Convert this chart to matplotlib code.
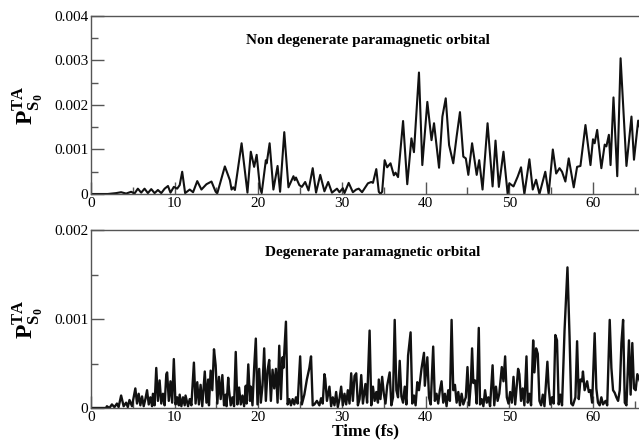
import numpy as np
import matplotlib
matplotlib.use("Agg")
import matplotlib.pyplot as plt
from matplotlib.ticker import MultipleLocator

plt.rcParams['font.family'] = ['Liberation Serif', 'DejaVu Serif']
plt.rcParams['mathtext.fontset'] = 'custom'
plt.rcParams['mathtext.rm'] = 'Liberation Serif'
plt.rcParams['mathtext.bf'] = 'Liberation Serif:bold'

# top panel: non degenerate paramagnetic orbital (time in fs, probability)
top_t = [0, 2.0, 3.0, 3.6, 4.2, 4.8, 5.2, 5.6, 6.0, 6.4, 6.8, 7.2, 7.6, 8.0, 8.4, 8.8,
         9.2, 9.5, 9.9, 10.3, 10.6, 10.9, 11.25, 11.8, 12.2, 12.7, 13.2, 13.8, 14.4, 14.9,
         15.1, 16.0, 16.6, 16.8, 17.0, 17.2, 18.0, 18.7, 19.1, 19.5, 19.8, 20.2, 20.4, 20.9,
         21.0, 21.35, 21.8, 22.3, 22.6, 23.1, 23.6, 24.2, 24.35, 24.5, 24.9, 25.2, 25.6, 26.0,
         26.5, 26.9, 27.4, 27.9, 28.35, 28.8, 29.4, 29.7, 30.1, 30.3, 30.8, 31.3, 31.7, 32.0,
         32.4, 33.1, 33.5, 33.7, 34.1, 34.4, 34.6, 34.8, 35.1, 35.4, 35.8, 36.2, 36.4, 36.7,
         37.3, 37.8, 38.3, 38.6, 39.2, 39.6, 40.2, 40.7, 41.0, 41.6, 42.0, 42.4, 42.8, 43.3,
         43.7, 44.1, 44.5, 44.8, 45.1, 45.55, 46.1, 46.4, 46.8, 47.4, 48.0, 48.35, 48.75, 49.3,
         49.8, 50.0, 50.5, 51.0, 51.4, 51.8, 52.4, 52.8, 53.2, 53.6, 54.3, 54.7, 55.2, 55.6,
         56.0, 56.3, 56.7, 57.1, 57.7, 58.1, 58.5, 59.1, 59.7, 60.0, 60.2, 60.5, 61.0, 61.4,
         61.6, 61.9, 62.1, 62.45, 62.9, 63.3, 64.0, 64.6, 64.9, 65.4, 65.6]
top_p = [0, 0, 0.00002, 0.00004, 0.00001, 0.00005, 0.00001, 0.00012, 0.00003, 0.00012,
         0.00002, 0.00011, 0.00002, 0.00009, 0.00002, 0.00012, 0.00018, 0.00003, 0.00016,
         0.00012, 0.0002, 0.0005, 0.00002, 0.0001, 0.00004, 0.00029, 0.0001, 0.00022, 0.00028,
         0.00005, 0.00002, 0.00062, 0.00031, 0.0001, 0.00015, 0.00009, 0.00114, 0.00003,
         0.00095, 0.00061, 0.00088, 0.00014, 0.00002, 0.00076, 0.00069, 0.00114, 0.0001,
         0.00063, 0.00005, 0.00139, 0.00015, 0.0004, 0.00031, 0.00037, 0.0002, 0.00016,
         0.00027, 0.00008, 0.00058, 0.00003, 0.00043, 0.00006, 0.00027, 0.00003, 0.00012,
         0.00004, 0.00013, 0.00002, 0.00025, 0.00004, 0.0001, 0.00012, 0.00004, 0.00024,
         0.00027, 0.00025, 0.00056, 0.00005, 0.0, 0.00005, 0.00076, 0.0006, 0.00069, 0.00042,
         0.00048, 0.00038, 0.00164, 0.00022, 0.00125, 0.00094, 0.00273, 0.00065, 0.00207,
         0.00121, 0.00159, 0.00059, 0.00174, 0.00215, 0.0011, 0.00069, 0.00129, 0.00184,
         0.00084, 0.0008, 0.00043, 0.00114, 0.00043, 0.00076, 0.0001, 0.00159, 0.00017,
         0.0012, 0.00016, 0.00095, 0.0, 0.00024, 0.00017, 0.00039, 0.0006, 0.0, 0.00078,
         0.0001, 0.00032, 0.0, 0.0005, 0.0, 0.001, 0.00046, 0.00058, 0.0005, 0.00028, 0.0008,
         0.00015, 0.00061, 0.00063, 0.00155, 0.00065, 0.00123, 0.00114, 0.00144, 0.00058,
         0.00111, 0.00107, 0.00133, 0.00065, 0.00217, 0.0004, 0.00305, 0.00063, 0.00174,
         0.00077, 0.00165, 0.0015]

# bottom panel: degenerate paramagnetic orbital
bot_t = [0, 1.8, 1.9, 2.2, 2.5, 2.8, 3.1, 3.3, 3.6, 3.9, 4.2, 4.4, 4.6, 4.9, 5.3, 5.5,
         5.7, 5.9, 6.1, 6.3, 6.5, 6.7, 6.9, 7.1, 7.3, 7.4, 7.6, 7.8, 8.0, 8.2, 8.4, 8.6,
         8.8, 9.0, 9.1, 9.3, 9.5, 9.7, 9.9, 10.1, 10.3, 10.5, 10.6, 10.8, 11.0, 11.2, 11.3,
         11.6, 11.8, 12.0, 12.3, 12.5, 12.7, 12.9, 13.1, 13.3, 13.6, 13.8, 14.0, 14.1, 14.3,
         14.5, 14.7, 14.9, 15.1, 15.3, 15.5, 15.7, 15.9, 16.1, 16.2, 16.4, 16.5, 16.7, 16.9,
         17.1, 17.3, 17.5, 17.7, 17.9, 18.1, 18.3, 18.5, 18.6, 18.8, 19.0, 19.1, 19.3, 19.5,
         19.7, 19.9, 20.1, 20.3, 20.5, 20.7, 20.9, 21.1, 21.3, 21.5, 21.7, 21.9, 22.1, 22.3,
         22.5, 22.7, 22.9, 23.0, 23.3, 23.5, 23.7, 23.9, 24.1, 24.3, 24.5, 24.7, 25.0, 25.2,
         25.5, 25.8, 26.1, 26.3, 26.5, 26.7, 27.0, 27.3, 27.5, 27.7, 27.9, 28.0, 28.2, 28.5,
         28.7, 28.9, 29.1, 29.3, 29.5, 29.7, 29.9, 30.1, 30.3, 30.5, 30.7, 30.9, 31.1, 31.3,
         31.5, 31.7, 31.9, 32.1, 32.3, 32.5, 32.8, 33.0, 33.3, 33.5, 33.7, 33.9, 34.1, 34.3,
         34.4, 34.6, 34.8, 35.0, 35.2, 35.4, 35.7, 35.9, 36.1, 36.3, 36.5, 36.7, 36.9, 37.1,
         37.3, 37.5, 37.7, 37.9, 38.2, 38.4, 38.6, 38.8, 39.0, 39.2, 39.5, 39.8, 39.9, 40.2,
         40.4, 40.6, 40.9, 41.1, 41.3, 41.5, 41.7, 41.9, 42.1, 42.3, 42.5, 42.7, 42.9, 43.1,
         43.3, 43.5, 43.7, 43.9, 44.1, 44.3, 44.5, 44.8, 45.0, 45.2, 45.4, 45.55, 45.7, 45.9,
         46.1, 46.35, 46.5, 46.7, 46.9, 47.1, 47.3, 47.5, 47.7, 48.0, 48.2, 48.4, 48.6, 48.8,
         49.1, 49.3, 49.5, 49.7, 49.9, 50.1, 50.3, 50.5, 50.7, 50.9, 51.05, 51.2, 51.4, 51.6,
         51.8, 52.05, 52.2, 52.4, 52.6, 52.85, 53.0, 53.2, 53.4, 53.6, 53.8, 54.0, 54.2,
         54.55, 54.7, 54.9, 55.1, 55.3, 55.5, 55.7, 55.9, 56.1, 56.3, 56.6, 56.95, 57.2,
         57.4, 57.6, 57.9, 58.1, 58.3, 58.5, 58.7, 58.8, 59.0, 59.3, 59.5, 59.7, 59.9, 60.2,
         60.4, 60.6, 60.8, 61.0, 61.2, 61.5, 61.7, 62.0, 62.2, 62.4, 62.6, 62.8, 63.0, 63.2,
         63.4, 63.6, 63.8, 64.0, 64.3, 64.5, 64.7, 64.9, 65.1, 65.3, 65.6]
bot_p = [0, 0, 0.00002, 0, 0.00004, 0.00001, 0.00005, 0.00001, 0.00014, 0.00002, 0.00006,
         0.00001, 0.00009, 0.00002, 0.00022, 0.00005, 0.00016, 0.00003, 0.00013, 0.00002,
         0.0001, 0.0002, 0.00004, 0.00012, 0.00002, 0.00016, 0.00003, 0.00045, 0.00008,
         0.00031, 0.00005, 0.00016, 0.00003, 0.00038, 0.0004, 0.00008, 0.0003, 0.00006,
         0.00055, 0.00004, 0.00012, 0.00003, 0.00015, 0.00002, 0.00012, 0.00003, 0.00014,
         0.00002, 0.0001, 0.00003, 0.00051, 0.00005, 0.00029, 0.00004, 0.00026, 0.00002,
         0.00041, 0.00006, 0.00032, 0.00003, 0.00042, 0.0002, 0.00066, 0.00048, 0.00005,
         0.00035, 0.0001, 0.00037, 0.00003, 0.00015, 0.00002, 0.00034, 0.0002, 0.00003,
         0.00012, 0.00002, 0.00063, 0.00004, 0.00023, 0.00004, 0.00014, 0.00002, 0.00025,
         0.00005, 0.00049, 0.00008, 0.00024, 0.00003, 0.00045, 0.00078, 0.00004, 0.00044,
         0.00006, 0.00025, 0.00067, 0.00008, 0.00042, 0.00054, 0.00008, 0.00043, 0.00022,
         0.00044, 0.00006, 0.0007, 0.0001, 0.00057, 0.00045, 0.00097, 0.00004, 0.0001,
         0.00003, 0.0001, 0.00004, 0.00012, 0.00005, 0.00058, 0.00004, 0.00015, 0.00032,
         0.00045, 0.00058, 0.00003, 0.00004, 0.00008, 0.00003, 0.00011, 0.00005, 0.00038,
         0.00033, 0.00008, 0.00024, 0.00002, 0.00012, 0.00003, 0.00018, 0.00001, 0.0001,
         0.00024, 0.00003, 0.00016, 0.00004, 0.0002, 0.00005, 0.00039, 0.00008, 0.00036,
         0.00039, 0.00003, 0.0001, 0.00037, 0.00005, 0.00027, 0.00006, 0.00087, 0.00003,
         0.00024, 0.00008, 0.00018, 0.00006, 0.00032, 0.0001, 0.00035, 0.00016, 0.00005,
         0.00025, 0.0004, 0.00003, 0.00012, 0.00099, 0.0002, 0.00012, 0.00053, 0.00013,
         0.00006, 0.00024, 0.00004, 0.00059, 0.00085, 0.00005, 0.00014, 0.00003, 0.00029,
         0.0002, 0.00044, 0.00062, 0.00025, 0.00057, 0.00012, 0.00004, 0.00069, 0.00008,
         0.00016, 0.00005, 0.0002, 0.0003, 0.00006, 0.00016, 0.00002, 0.0002, 0.00008,
         0.00099, 0.0002, 0.00026, 0.00006, 0.00018, 0.00003, 0.00016, 0.00004, 0.00012,
         0.00046, 0.00003, 0.00028, 0.00067, 0.00028, 0.00031, 0.00005, 0.0009, 0.00004,
         0.0001, 0.00002, 0.0002, 0.00006, 0.00012, 0.00002, 0.00048, 0.00003, 0.00024,
         0.00008, 0.00016, 0.00046, 0.0003, 0.00058, 0.00012, 0.00005, 0.00018, 0.00006,
         0.00035, 0.00004, 0.00026, 0.00044, 0.00038, 0.00008, 0.00022, 0.00003, 0.00058,
         0.00006, 0.00016, 0.00003, 0.00076, 0.0004, 0.00067, 0.00061, 0.00008, 0.00003,
         0.00015, 0.00002, 0.00052, 0.00024, 0.00004, 0.00012, 0.00005, 0.00082, 0.00076,
         0.00004, 0.00015, 0.00003, 0.00087, 0.00158, 0.0008, 0.00005, 0.00003, 0.00012,
         0.00075, 0.0001, 0.00032, 0.0003, 0.00041, 0.0002, 0.0003, 0.00018, 0.0002, 0.00006,
         0.00084, 0.00022, 0.00006, 0.00003, 0.00012, 0.00004, 0.00008, 0.00003, 0.00099,
         0.00045, 0.0002, 0.00017, 0.00012, 0.00008, 0.0002, 0.00073, 0.00099, 0.00006,
         0.00003, 0.00076, 0.00015, 0.00073, 0.00022, 0.0002, 0.00038, 0.0003]

top_yticks = [0, 0.001, 0.002, 0.003, 0.004]
top_ylabels = ['0', '0.001', '0.002', '0.003', '0.004']
bot_yticks = [0, 0.001, 0.002]
bot_ylabels = ['0', '0.001', '0.002']
xticks = [0, 10, 20, 30, 40, 50, 60]

fig = plt.figure(figsize=(6.39, 4.46), dpi=100)
ax1 = fig.add_axes([91/639, 1 - 194/446, 548/639, 178/446])
ax2 = fig.add_axes([91/639, 1 - 408/446, 548/639, 178/446])

ylab = r'$\mathbf{P}_{\mathbf{S}_\mathbf{0}}^{\mathbf{TA}}$'

def style(ax, yticks, ylabels, ymax, yminor):
    ax.set_xlim(0, 65.5)
    ax.set_ylim(0, ymax)
    ax.set_xticks(xticks)
    ax.set_xticklabels([str(v) for v in xticks])
    ax.set_yticks(yticks)
    ax.set_yticklabels(ylabels)
    ax.xaxis.set_minor_locator(MultipleLocator(5))
    ax.yaxis.set_minor_locator(MultipleLocator(yminor))
    ax.tick_params(which='both', direction='in', color='#555555', labelsize=11,
                   top=False, right=False, pad=2)
    ax.tick_params(which='major', length=9, width=1)
    ax.tick_params(which='minor', length=5, width=1)
    for s in ['left', 'top', 'bottom']:
        ax.spines[s].set_color('#555555')
        ax.spines[s].set_linewidth(1)
    ax.spines['right'].set_visible(False)
    ax.set_ylabel(ylab, fontsize=17)
    # anchor is the right edge of the rotated label
    ax.yaxis.set_label_coords(-0.083, 0.5)

ax1.plot(top_t, top_p, color='#111111', lw=1.5)
style(ax1, top_yticks, top_ylabels, 0.004, 0.0005)
ax1.text(0.505, 0.865, 'Non degenerate paramagnetic orbital', transform=ax1.transAxes,
         ha='center', va='center', fontsize=11, fontweight='bold')

ax2.plot(bot_t, bot_p, color='#111111', lw=1.7)
style(ax2, bot_yticks, bot_ylabels, 0.002, 0.0005)
ax2.text(0.514, 0.876, 'Degenerate paramagnetic orbital', transform=ax2.transAxes,
         ha='center', va='center', fontsize=11, fontweight='bold')
ax2.set_xlabel('Time (fs)', fontsize=12.5, fontweight='bold', labelpad=0)

fig.savefig('out.png', dpi=100)
